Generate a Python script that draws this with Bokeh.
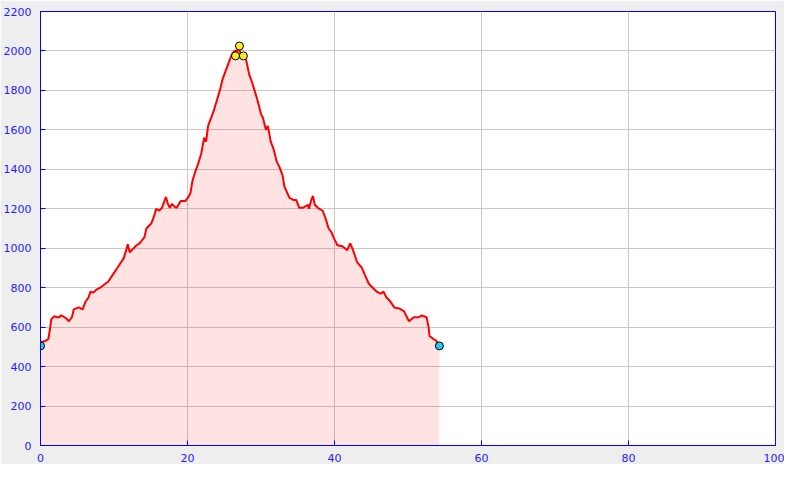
from bokeh.plotting import figure
from bokeh.models import Range1d, ColumnDataSource, SingleIntervalTicker
from bokeh.embed import file_html
from bokeh.resources import INLINE

# distance (km) and elevation (m)
dist_km = [0.0, 0.67, 1.07, 1.33, 1.47, 1.87, 2.27, 2.53, 2.8, 3.07, 3.47, 3.87, 4.27, 4.53,
           5.2, 5.73, 6.13, 6.53, 6.8, 7.2, 7.6, 8.13, 8.8, 9.2, 9.73, 10.27, 10.8, 11.33,
           11.73, 11.87, 12.13, 12.67, 13.07, 13.47, 14.13, 14.4, 15.07, 15.47, 15.73, 16.13,
           16.53, 17.07, 17.33, 17.6, 17.87, 18.27, 18.53, 19.07, 19.73, 20.13, 20.4, 20.67,
           21.07, 21.47, 21.87, 22.27, 22.53, 22.8, 23.2, 23.6, 24.0, 24.4, 24.8, 25.2, 25.6,
           26.0, 26.4, 26.8, 26.93, 27.2, 27.6, 28.0, 28.4, 28.8, 29.2, 29.6, 30.0, 30.27,
           30.67, 30.93, 31.33, 31.73, 32.13, 32.53, 32.93, 33.2, 33.47, 33.87, 34.4, 34.8,
           35.2, 35.73, 36.13, 36.4, 36.53, 36.8, 37.07, 37.33, 37.73, 38.4, 38.8, 39.2, 39.6,
           39.87, 40.4, 41.07, 41.73, 42.13, 42.53, 43.07, 43.73, 44.13, 44.67, 45.2, 45.73,
           46.27, 46.67, 47.07, 47.6, 48.13, 48.8, 49.47, 50.13, 50.8, 51.47, 51.87, 52.13,
           52.53, 52.8, 52.93, 53.47, 53.87, 54.13, 54.27]
elev_m = [525, 530, 540, 600, 640, 655, 650, 650, 660, 655, 645, 630, 650, 690,
          700, 690, 730, 750, 780, 775, 790, 800, 820, 830, 860, 890, 920, 950,
          1000, 1020, 980, 1000, 1015, 1025, 1055, 1100, 1125, 1165, 1200, 1190,
          1205, 1260, 1225, 1205, 1225, 1210, 1205, 1240, 1240, 1260, 1280, 1340,
          1390, 1430, 1480, 1560, 1540, 1620, 1660, 1700, 1750, 1800, 1860, 1900, 1940,
          1980, 2000, 2000, 2020, 1990, 1980, 1950, 1880, 1840, 1790, 1740, 1680, 1660,
          1600, 1620, 1540, 1500, 1440, 1410, 1370, 1310, 1290, 1255, 1245, 1245,
          1205, 1205, 1215, 1220, 1200, 1240, 1265, 1220, 1205, 1190, 1150, 1100, 1080,
          1055, 1015, 1010, 990, 1025, 990, 930, 900, 865, 820, 800, 780,
          770, 780, 750, 730, 700, 695, 680, 630, 650, 650, 660, 655,
          650, 600, 555, 540, 530, 510, 505]

# start / end markers and summit markers
end_km = [0.0, 54.27]
end_m = [505, 505]
top_km = [26.53, 27.07, 27.6]
top_m = [1975, 2025, 1975]

blue = "#2222ff"

p = figure(width=784, height=464, output_backend="svg", toolbar_location=None,
           x_range=Range1d(0, 100), y_range=Range1d(0, 2200),
           background_fill_color="white", border_fill_color="#eeeeee",
           min_border=0, min_border_right=9, min_border_top=11)

p.outline_line_color = "#0000ff"
p.outline_line_width = 1

for ax in (p.xaxis[0], p.yaxis[0]):
    ax.axis_line_color = "#0000ff"
    ax.major_tick_line_color = "#0000ff"
    ax.major_tick_in = 5
    ax.major_tick_out = 0
    ax.minor_tick_line_color = None
    ax.major_label_text_color = blue
    ax.major_label_text_font = "DejaVu Sans"
    ax.major_label_text_font_size = "11px"

p.xaxis[0].ticker = SingleIntervalTicker(interval=20)
p.yaxis[0].ticker = SingleIntervalTicker(interval=200)
p.yaxis[0].major_label_standoff = 5
p.xaxis[0].major_label_standoff = 4

p.xgrid.grid_line_color = "#c8c8c8"
p.ygrid.grid_line_color = "#c8c8c8"
p.xgrid.ticker = SingleIntervalTicker(interval=20)
p.ygrid.ticker = SingleIntervalTicker(interval=200)

src = ColumnDataSource(dict(x=dist_km, y=elev_m, y0=[0] * len(elev_m)))
p.varea(x="x", y1="y0", y2="y", source=src, fill_color="red", fill_alpha=0.11)
p.line(x="x", y="y", source=src, line_color="#ff0000", line_width=2)

p.scatter(end_km, end_m, size=8, fill_color="#22ccee", line_color="black", line_width=1)
p.scatter(top_km, top_m, size=8, fill_color="#ffee22", line_color="black", line_width=1)

open("out.html", "w").write(file_html(p, INLINE))
